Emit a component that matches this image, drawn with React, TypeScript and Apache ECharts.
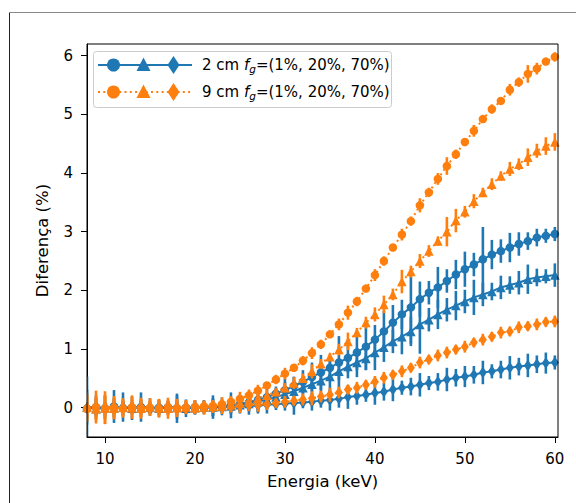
import React, { useEffect, useRef } from "react";
import * as echarts from "echarts";

const energies = [
  8, 9, 10, 11, 12, 13, 14, 15, 16, 17,
  18, 19, 20, 21, 22, 23, 24, 25, 26, 27,
  28, 29, 30, 31, 32, 33, 34, 35, 36, 37,
  38, 39, 40, 41, 42, 43, 44, 45, 46, 47,
  48, 49, 50, 51, 52, 53, 54, 55, 56, 57,
  58, 59, 60,
];

// 2 cm, fg = 1%
const b1Values = [
  -0.02, 0.01, -0.01, 0.02, -0.01, 0.0, 0.01, -0.02, 0.0, 0.01,
  -0.01, 0.0, 0.01, 0.0, 0.01, 0.02, 0.04, 0.06, 0.09, 0.13,
  0.18, 0.24, 0.3, 0.37, 0.44, 0.52, 0.6, 0.68, 0.77, 0.85,
  0.94, 1.04, 1.16, 1.3, 1.45, 1.59, 1.71, 1.85, 1.96, 2.05,
  2.16, 2.27, 2.36, 2.44, 2.53, 2.61, 2.67, 2.73, 2.79, 2.84,
  2.9, 2.93, 2.96,
];
const b1Errors = [
  0.55, 0.15, 0.1, 0.28, 0.12, 0.1, 0.25, 0.08, 0.12, 0.1,
  0.25, 0.1, 0.12, 0.1, 0.2, 0.15, 0.22, 0.12, 0.15, 0.2,
  0.15, 0.12, 0.2, 0.15, 0.2, 0.25, 0.3, 0.2, 0.45, 0.25,
  0.3, 0.4, 0.25, 0.35, 0.3, 0.25, 0.62, 0.3, 0.2, 0.35,
  0.2, 0.25, 0.3, 0.2, 0.55, 0.25, 0.2, 0.25, 0.2, 0.15,
  0.15, 0.12, 0.12,
];

// 2 cm, fg = 20%
const b2Values = [
  0.01, -0.02, 0.0, -0.01, 0.01, -0.01, 0.0, 0.01, -0.01, 0.0,
  0.01, -0.01, 0.0, 0.01, 0.01, 0.02, 0.03, 0.05, 0.07, 0.1,
  0.14, 0.18, 0.23, 0.28, 0.34, 0.4, 0.46, 0.53, 0.62, 0.7,
  0.77, 0.84, 0.94, 1.03, 1.13, 1.21, 1.3, 1.42, 1.5, 1.59,
  1.67, 1.74, 1.81, 1.88, 1.93, 1.98, 2.05, 2.09, 2.13, 2.19,
  2.22, 2.24, 2.26,
];
const b2Errors = [
  0.3, 0.12, 0.2, 0.1, 0.25, 0.1, 0.12, 0.15, 0.1, 0.12,
  0.2, 0.1, 0.12, 0.1, 0.15, 0.1, 0.12, 0.15, 0.1, 0.2,
  0.12, 0.15, 0.2, 0.25, 0.15, 0.2, 0.25, 0.3, 0.15, 0.2,
  0.25, 0.2, 0.3, 0.25, 0.2, 0.3, 0.25, 0.5, 0.2, 0.25,
  0.2, 0.25, 0.2, 0.3, 0.2, 0.15, 0.2, 0.15, 0.2, 0.25,
  0.15, 0.12, 0.2,
];

// 2 cm, fg = 70%
const b3Values = [
  0.0, 0.01, -0.02, 0.0, 0.01, -0.01, 0.02, 0.0, -0.01, 0.01,
  0.0, -0.01, 0.0, 0.01, 0.0, 0.01, 0.01, 0.02, 0.03, 0.04,
  0.05, 0.06, 0.07, 0.08, 0.09, 0.1, 0.12, 0.13, 0.15, 0.18,
  0.2, 0.22, 0.25, 0.27, 0.31, 0.34, 0.36, 0.39, 0.42, 0.44,
  0.48, 0.51, 0.53, 0.56, 0.6, 0.62, 0.65, 0.68, 0.7, 0.72,
  0.74, 0.76, 0.77,
];
const b3Errors = [
  0.25, 0.2, 0.12, 0.15, 0.1, 0.2, 0.12, 0.1, 0.15, 0.1,
  0.12, 0.15, 0.1, 0.12, 0.15, 0.1, 0.12, 0.1, 0.15, 0.12,
  0.15, 0.1, 0.12, 0.2, 0.1, 0.15, 0.12, 0.18, 0.15, 0.2,
  0.15, 0.12, 0.2, 0.15, 0.2, 0.12, 0.15, 0.2, 0.12, 0.15,
  0.2, 0.15, 0.18, 0.15, 0.2, 0.12, 0.15, 0.2, 0.15, 0.2,
  0.15, 0.18, 0.12,
];

// 9 cm, fg = 1%
const o1Values = [
  -0.02, 0.01, -0.03, 0.0, -0.02, 0.01, -0.01, 0.0, -0.02, 0.01,
  -0.01, 0.0, 0.01, 0.02, 0.03, 0.06, 0.1, 0.15, 0.21, 0.29,
  0.38, 0.48, 0.58, 0.68, 0.8, 0.93, 1.08, 1.25, 1.42, 1.62,
  1.81, 2.03, 2.26, 2.5, 2.73, 2.95, 3.18, 3.45, 3.67, 3.9,
  4.12, 4.32, 4.53, 4.72, 4.92, 5.09, 5.23, 5.42, 5.55, 5.69,
  5.78, 5.9, 5.98,
];
const o1Errors = [
  0.2, 0.28, 0.25, 0.2, 0.15, 0.2, 0.15, 0.12, 0.15, 0.12,
  0.15, 0.1, 0.12, 0.1, 0.1, 0.12, 0.1, 0.12, 0.1, 0.1,
  0.06, 0.08, 0.1, 0.06, 0.08, 0.1, 0.08, 0.06, 0.1, 0.12,
  0.08, 0.06, 0.1, 0.08, 0.06, 0.1, 0.08, 0.12, 0.08, 0.1,
  0.15, 0.08, 0.06, 0.1, 0.06, 0.08, 0.06, 0.1, 0.08, 0.15,
  0.1, 0.06, 0.08,
];

// 9 cm, fg = 20%
const o2Values = [
  0.01, -0.02, 0.0, -0.01, 0.01, 0.0, -0.01, 0.01, 0.0, -0.01,
  0.0, 0.01, 0.0, 0.01, 0.02, 0.03, 0.05, 0.08, 0.12, 0.16,
  0.21, 0.27, 0.34, 0.42, 0.5, 0.62, 0.75, 0.87, 0.99, 1.13,
  1.28, 1.45, 1.59, 1.76, 1.93, 2.15, 2.32, 2.5, 2.67, 2.84,
  3.0, 3.19, 3.34, 3.52, 3.67, 3.81, 3.95, 4.07, 4.15, 4.27,
  4.38, 4.46, 4.53,
];
const o2Errors = [
  0.25, 0.2, 0.28, 0.18, 0.15, 0.18, 0.15, 0.15, 0.12, 0.18,
  0.12, 0.12, 0.1, 0.1, 0.1, 0.1, 0.12, 0.12, 0.1, 0.1,
  0.1, 0.06, 0.08, 0.1, 0.08, 0.12, 0.08, 0.06, 0.1, 0.15,
  0.08, 0.1, 0.12, 0.15, 0.1, 0.2, 0.1, 0.12, 0.1, 0.08,
  0.25, 0.2, 0.1, 0.12, 0.08, 0.1, 0.08, 0.12, 0.1, 0.15,
  0.12, 0.15, 0.15,
];

// 9 cm, fg = 70%
const o3Values = [
  -0.01, 0.0, 0.01, -0.01, 0.0, 0.01, -0.01, 0.0, 0.0, -0.01,
  0.0, 0.01, 0.0, 0.0, 0.01, 0.01, 0.02, 0.03, 0.04, 0.05,
  0.06, 0.08, 0.1, 0.12, 0.14, 0.16, 0.19, 0.22, 0.26, 0.31,
  0.34, 0.39, 0.44, 0.51, 0.56, 0.62, 0.68, 0.77, 0.82, 0.89,
  0.94, 0.99, 1.04, 1.11, 1.16, 1.21, 1.28, 1.3, 1.37, 1.39,
  1.42, 1.46, 1.47,
];
const o3Errors = [
  0.22, 0.18, 0.2, 0.15, 0.15, 0.12, 0.18, 0.12, 0.15, 0.12,
  0.15, 0.12, 0.1, 0.12, 0.1, 0.12, 0.1, 0.12, 0.1, 0.12,
  0.1, 0.08, 0.1, 0.08, 0.1, 0.12, 0.1, 0.12, 0.1, 0.08,
  0.1, 0.08, 0.1, 0.1, 0.08, 0.1, 0.08, 0.1, 0.08, 0.1,
  0.1, 0.08, 0.1, 0.08, 0.1, 0.08, 0.1, 0.08, 0.1, 0.08,
  0.1, 0.08, 0.1,
];

const xTicks = [10, 20, 30, 40, 50, 60];
const yTicks = [0, 1, 2, 3, 4, 5, 6];
const legendLabels = ["2 cm", "9 cm"];
const legendFractions = "=(1%, 20%, 70%)";

const BLUE = "#1f77b4";
const ORANGE = "#ff7f0e";
const FONT = "DejaVu Sans";

function errSeries(name: string, vals: number[], errs: number[], color: string, z: number) {
  return {
    type: "custom",
    name: name + "-err",
    clip: true,
    z,
    silent: true,
    encode: { x: 0, y: 1 },
    data: energies.map((x, i) => [x, vals[i], errs[i]]),
    renderItem: (params: any, api: any) => {
      const x = api.value(0);
      const y = api.value(1);
      const e = api.value(2);
      const p1 = api.coord([x, y - e]);
      const p2 = api.coord([x, y + e]);
      return {
        type: "line",
        shape: { x1: p1[0], y1: p1[1], x2: p2[0], y2: p2[1] },
        style: { stroke: color, lineWidth: 2.6 },
      };
    },
  };
}

function lineSeries(name: string, vals: number[], color: string, symbol: string, size: any, dotted: boolean, z: number) {
  return {
    type: "line",
    name,
    z,
    silent: true,
    data: energies.map((x, i) => [x, vals[i]]),
    symbol,
    symbolSize: size,
    showSymbol: true,
    showAllSymbol: true,
    itemStyle: { color, borderWidth: 0 },
    lineStyle: { color, width: 2, type: dotted ? [2, 3.3] : "solid" },
    emphasis: { disabled: true },
  };
}

function legendRow(y: number, color: string, dotted: boolean, label: string) {
  const items: any[] = [];
  items.push({
    type: "line",
    shape: { x1: 98, y1: y, x2: 192, y2: y },
    style: { stroke: color, lineWidth: 2, lineDash: dotted ? [2, 3.3] : null },
    z: 101,
  });
  items.push({ type: "circle", shape: { cx: 113.5, cy: y, r: 6.5 }, style: { fill: color }, z: 102 });
  items.push({
    type: "polygon",
    shape: { points: [[143.5, y - 7.5], [136.5, y + 6], [150.5, y + 6]] },
    style: { fill: color },
    z: 102,
  });
  items.push({
    type: "polygon",
    shape: { points: [[173.5, y - 9], [179.5, y], [173.5, y + 9], [167.5, y]] },
    style: { fill: color },
    z: 102,
  });
  items.push({
    type: "text",
    x: 202,
    y,
    z: 102,
    style: {
      text: `{a|${label} }{i|f}{s|g}{a|${legendFractions}}`,
      verticalAlign: "middle",
      align: "left",
      fill: "#000",
      rich: {
        a: { fontSize: 15, fontFamily: FONT, lineHeight: 18, fill: "#000" },
        i: { fontSize: 15, fontFamily: FONT, fontStyle: "italic", lineHeight: 18, fill: "#000" },
        s: { fontSize: 10.5, fontFamily: FONT, fontStyle: "italic", lineHeight: 10, verticalAlign: "bottom", fill: "#000" },
      },
    },
  });
  return items;
}

export default function App() {
  const ref = useRef<HTMLDivElement>(null);
  useEffect(() => {
    if (!ref.current) return;
    const chart = echarts.init(ref.current, null, { renderer: "svg" });
    const option: any = {
      animation: false,
      backgroundColor: "#fff",
      textStyle: { fontFamily: FONT },
      grid: {
        left: 87,
        right: 18,
        top: 44,
        bottom: 66,
        show: true,
        borderColor: "#000",
        borderWidth: 1,
        backgroundColor: "transparent",
        z: 10,
      },
      xAxis: {
        type: "value",
        min: 8,
        max: 60.35,
        name: "Energia (keV)",
        nameLocation: "middle",
        nameGap: 36,
        nameTextStyle: { fontSize: 16.5, color: "#000", fontFamily: FONT },
        axisLine: { show: true, onZero: false, lineStyle: { color: "#000", width: 1 } },
        axisTick: { show: true, customValues: xTicks, length: 6, lineStyle: { color: "#000", width: 1 } },
        axisLabel: { customValues: xTicks, fontSize: 15, color: "#000", margin: 14, fontFamily: FONT },
        splitLine: { show: false },
      },
      yAxis: {
        type: "value",
        min: -0.5,
        max: 6.2,
        name: "Diferença (%)",
        nameLocation: "middle",
        nameRotate: 90,
        nameGap: 36,
        nameTextStyle: { fontSize: 16.5, color: "#000", fontFamily: FONT },
        axisLine: { show: true, onZero: false, lineStyle: { color: "#000", width: 1 } },
        axisTick: { show: true, customValues: yTicks, length: 6, lineStyle: { color: "#000", width: 1 } },
        axisLabel: { customValues: yTicks, fontSize: 15, color: "#000", margin: 14, fontFamily: FONT },
        splitLine: { show: false },
      },
      series: [
        errSeries("b1", b1Values, b1Errors, BLUE, 2),
        lineSeries("b1", b1Values, BLUE, "circle", 8.5, false, 3),
        errSeries("b2", b2Values, b2Errors, BLUE, 2),
        lineSeries("b2", b2Values, BLUE, "triangle", 9.5, false, 3),
        errSeries("b3", b3Values, b3Errors, BLUE, 2),
        lineSeries("b3", b3Values, BLUE, "diamond", [8, 11.5], false, 3),
        errSeries("o1", o1Values, o1Errors, ORANGE, 4),
        lineSeries("o1", o1Values, ORANGE, "circle", 8.5, true, 5),
        errSeries("o2", o2Values, o2Errors, ORANGE, 4),
        lineSeries("o2", o2Values, ORANGE, "triangle", 9.5, true, 5),
        errSeries("o3", o3Values, o3Errors, ORANGE, 4),
        lineSeries("o3", o3Values, ORANGE, "diamond", [8, 11.5], true, 5),
      ],
      graphic: [
        { type: "line", shape: { x1: 9.5, y1: 12, x2: 9.5, y2: 503 }, style: { stroke: "#222", lineWidth: 1 }, z: 100 },
        { type: "line", shape: { x1: 9, y1: 12.5, x2: 576, y2: 12.5 }, style: { stroke: "#888", lineWidth: 1 }, z: 100 },
        {
          type: "rect",
          shape: { x: 93.5, y: 51.5, width: 298, height: 56, r: 3 },
          style: { fill: "rgba(255,255,255,0.8)", stroke: "#cccccc", lineWidth: 1 },
          z: 100,
        },
        ...legendRow(65, BLUE, false, legendLabels[0]),
        ...legendRow(92, ORANGE, true, legendLabels[1]),
      ],
    };
    chart.setOption(option);
    return () => chart.dispose();
  }, []);
  return (
    <div
      ref={ref}
      style={{ position: "fixed", left: 0, top: 0, width: 576, height: 503, background: "#fff" }}
    />
  );
}
